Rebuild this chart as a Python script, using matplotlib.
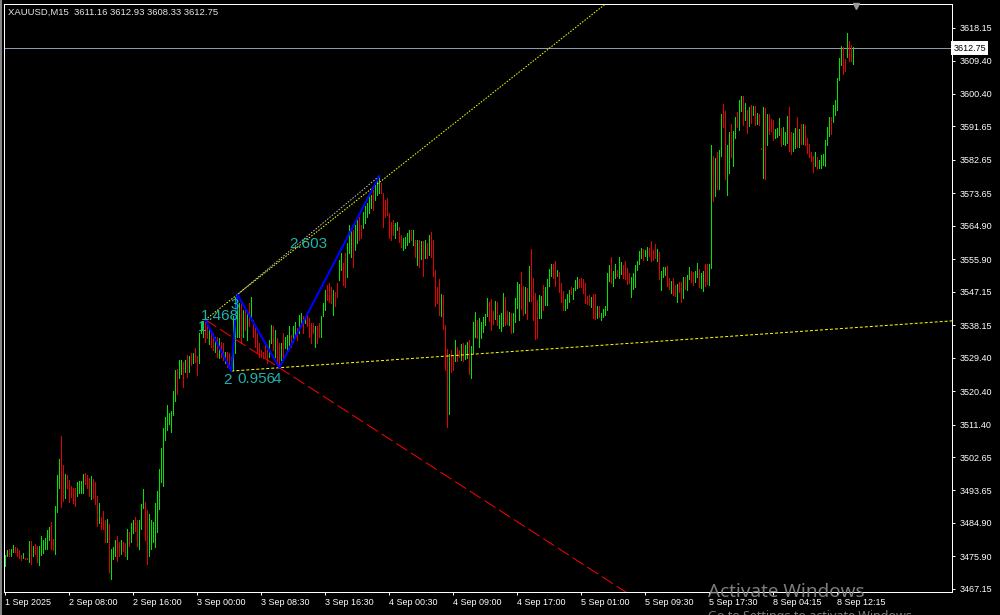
import matplotlib
matplotlib.use("Agg")
import matplotlib.pyplot as plt
from matplotlib.lines import Line2D

# chart header
symbol = "XAUUSD,M15"
last_ohlc = [3611.16, 3612.93, 3608.33, 3612.75]

# M15 bars, high / low per bar, G = up bar, R = down bar
highs = [
    3476.3, 3477.7, 3477.8, 3477.9, 3479.0, 3478.3, 3478.1, 3477.7, 3476.4, 3476.8,
    3475.5, 3475.5, 3480.1, 3480.1, 3478.7, 3479.3, 3478.8, 3478.7, 3481.4, 3480.2,
    3480.8, 3483.0, 3483.8, 3485.2, 3480.6, 3489.5, 3497.8, 3502.1, 3508.4, 3500.5,
    3498.1, 3497.8, 3496.5, 3494.9, 3494.4, 3494.3, 3495.9, 3496.2, 3496.2, 3498.1,
    3498.4, 3497.8, 3497.0, 3497.6, 3496.8, 3495.8, 3492.2, 3490.3, 3486.5, 3488.1,
    3485.8, 3486.0, 3484.6, 3477.9, 3478.4, 3480.3, 3481.4, 3479.8, 3480.3, 3479.8,
    3479.5, 3483.3, 3482.5, 3484.9, 3485.7, 3486.5, 3485.8, 3485.7, 3490.0, 3494.1,
    3490.6, 3488.4, 3487.3, 3485.8, 3485.2, 3490.3, 3493.5, 3499.4, 3505.1, 3510.5,
    3513.4, 3516.7, 3514.4, 3515.1, 3520.5, 3526.1, 3526.4, 3528.8, 3528.8, 3528.2,
    3528.8, 3530.1, 3529.9, 3530.6, 3530.7, 3531.9, 3529.9, 3536.0, 3539.1, 3539.4,
    3539.6, 3539.4, 3537.0, 3536.9, 3536.0, 3535.1, 3535.1, 3534.6, 3533.7, 3533.3,
    3531.0, 3531.0, 3530.6, 3529.7, 3540.5, 3545.8, 3546.4, 3544.0, 3544.9, 3542.3,
    3542.3, 3541.4, 3544.0, 3545.8, 3539.6, 3537.8, 3536.0, 3533.3, 3531.5, 3531.0,
    3533.3, 3531.5, 3534.2, 3538.2, 3537.8, 3536.9, 3534.6, 3533.3, 3533.3, 3536.0,
    3535.1, 3535.5, 3537.8, 3535.5, 3537.8, 3539.1, 3537.3, 3540.9, 3541.4, 3540.5,
    3540.5, 3541.8, 3540.0, 3538.7, 3538.7, 3537.8, 3537.8, 3538.7, 3540.5, 3544.0,
    3547.6, 3549.0, 3549.4, 3548.5, 3547.6, 3547.2, 3549.4, 3555.7, 3557.5, 3554.8,
    3557.5, 3560.2, 3565.1, 3564.2, 3563.8, 3565.1, 3566.5, 3567.4, 3565.1, 3568.7,
    3570.1, 3571.0, 3572.8, 3573.2, 3574.5, 3575.9, 3577.2, 3578.3, 3576.3, 3573.7,
    3571.9, 3572.3, 3568.3, 3566.0, 3566.5, 3565.6, 3566.0, 3564.7, 3562.4, 3561.5,
    3562.0, 3562.9, 3563.8, 3563.8, 3563.8, 3561.1, 3561.1, 3561.1, 3560.8, 3560.8,
    3561.1, 3560.2, 3562.4, 3563.1, 3561.1, 3553.0, 3548.5, 3550.6, 3546.5, 3546.3,
    3538.2, 3531.7, 3530.4, 3531.5, 3529.9, 3534.2, 3532.2, 3531.5, 3533.1, 3533.4,
    3532.8, 3533.6, 3534.2, 3532.6, 3539.0, 3541.7, 3539.5, 3540.0, 3539.0, 3540.4,
    3541.2, 3545.5, 3544.5, 3545.2, 3541.9, 3544.7, 3544.4, 3540.9, 3541.3, 3546.7,
    3545.7, 3542.0, 3541.7, 3541.3, 3541.3, 3545.5, 3549.8, 3549.1, 3552.4, 3548.7,
    3548.5, 3548.2, 3554.1, 3558.7, 3550.9, 3546.8, 3544.9, 3546.3, 3546.1, 3549.0,
    3548.5, 3550.6, 3553.3, 3554.7, 3554.7, 3555.4, 3553.0, 3552.5, 3549.4, 3547.4,
    3545.2, 3546.5, 3547.7, 3548.4, 3548.2, 3550.3, 3551.1, 3550.5, 3550.8, 3550.6,
    3549.4, 3546.1, 3546.3, 3545.8, 3546.5, 3546.5, 3543.3, 3543.3, 3541.5, 3542.5,
    3543.3, 3552.3, 3554.3, 3556.5, 3552.8, 3554.7, 3553.0, 3556.5, 3555.2, 3554.4,
    3555.4, 3553.5, 3552.3, 3551.0, 3552.3, 3554.3, 3555.5, 3558.1, 3558.9, 3558.7,
    3558.4, 3559.2, 3558.9, 3560.8, 3558.4, 3560.0, 3558.7, 3557.9, 3552.8, 3553.8,
    3553.8, 3554.1, 3550.9, 3550.1, 3550.9, 3549.0, 3549.3, 3549.8, 3549.8, 3551.2,
    3551.2, 3551.7, 3553.8, 3552.8, 3552.5, 3552.8, 3554.9, 3553.3, 3552.2, 3552.8,
    3554.6, 3554.6, 3554.7, 3586.7, 3583.7, 3583.2, 3584.8, 3585.3, 3595.0, 3597.7,
    3595.8, 3586.7, 3590.2, 3592.3, 3590.4, 3594.2, 3595.6, 3598.8, 3599.9, 3599.9,
    3598.0, 3596.1, 3596.9, 3597.4, 3597.2, 3597.2, 3595.3, 3595.0, 3585.8, 3596.9,
    3596.6, 3595.0, 3595.0, 3593.7, 3593.4, 3591.0, 3591.2, 3593.9, 3591.2, 3591.5,
    3590.2, 3594.5, 3596.9, 3590.2, 3589.9, 3591.2, 3594.2, 3591.0, 3592.3, 3592.3,
    3592.0, 3588.6, 3586.9, 3584.8, 3583.7, 3584.8, 3583.4, 3582.6, 3584.0, 3584.2,
    3588.0, 3591.5, 3594.2, 3594.2, 3597.4, 3598.8, 3604.7, 3610.1, 3613.3, 3613.0,
    3609.8, 3616.8, 3614.7, 3613.6, 3612.93,
]
lows = [
    3473.4, 3475.9, 3476.0, 3475.9, 3477.2, 3477.0, 3475.9, 3475.4, 3474.8, 3475.4,
    3475.2, 3475.2, 3474.5, 3473.9, 3476.1, 3476.6, 3474.5, 3473.6, 3476.2, 3476.8,
    3477.9, 3477.9, 3480.3, 3477.9, 3477.6, 3476.6, 3487.9, 3494.3, 3489.2, 3490.8,
    3491.6, 3494.3, 3490.5, 3492.0, 3490.4, 3489.5, 3492.2, 3493.0, 3493.0, 3493.0,
    3495.4, 3494.3, 3492.2, 3491.4, 3491.6, 3490.0, 3484.2, 3485.0, 3483.3, 3483.3,
    3479.8, 3479.8, 3471.7, 3469.8, 3475.2, 3476.1, 3474.7, 3475.9, 3476.6, 3477.4,
    3476.1, 3475.2, 3478.7, 3479.8, 3482.2, 3482.8, 3478.7, 3477.9, 3483.3, 3488.9,
    3480.3, 3473.9, 3476.0, 3477.9, 3479.8, 3478.4, 3482.5, 3488.7, 3495.9, 3494.9,
    3507.3, 3509.8, 3511.6, 3509.5, 3514.0, 3517.8, 3519.6, 3524.0, 3525.0, 3521.6,
    3525.6, 3524.3, 3525.6, 3527.4, 3527.9, 3528.2, 3524.8, 3528.1, 3536.0, 3535.0,
    3533.5, 3534.6, 3533.0, 3532.4, 3531.5, 3531.0, 3529.7, 3529.2, 3529.7, 3528.8,
    3527.9, 3527.0, 3526.6, 3525.8, 3526.1, 3530.6, 3535.1, 3535.1, 3533.3, 3535.1,
    3536.9, 3534.2, 3537.8, 3539.6, 3535.1, 3532.4, 3530.6, 3529.7, 3529.7, 3529.2,
    3529.7, 3527.9, 3529.7, 3533.3, 3531.5, 3529.7, 3527.9, 3526.7, 3528.8, 3528.8,
    3531.9, 3531.5, 3532.8, 3532.4, 3533.7, 3535.1, 3534.2, 3536.0, 3537.8, 3536.0,
    3538.7, 3537.8, 3535.1, 3533.3, 3536.0, 3532.4, 3533.3, 3535.1, 3535.1, 3540.5,
    3542.3, 3544.9, 3544.5, 3544.0, 3540.9, 3543.2, 3545.8, 3550.3, 3553.0, 3549.0,
    3548.5, 3551.2, 3557.5, 3556.6, 3553.9, 3558.4, 3560.2, 3561.1, 3561.5, 3564.2,
    3565.6, 3567.4, 3568.3, 3569.6, 3569.2, 3571.9, 3573.2, 3573.7, 3573.7, 3564.7,
    3567.4, 3567.8, 3561.5, 3561.1, 3562.4, 3561.5, 3563.8, 3560.6, 3559.3, 3558.4,
    3558.8, 3559.7, 3560.6, 3561.1, 3559.7, 3556.6, 3554.4, 3553.9, 3556.0, 3551.5,
    3556.1, 3556.1, 3557.0, 3556.6, 3551.5, 3543.3, 3544.2, 3540.9, 3540.5, 3537.1,
    3526.1, 3510.8, 3514.3, 3525.6, 3526.1, 3528.5, 3528.5, 3529.7, 3528.8, 3528.5,
    3529.0, 3529.4, 3525.0, 3524.0, 3530.7, 3535.0, 3534.8, 3532.4, 3534.8, 3536.3,
    3538.3, 3540.6, 3539.4, 3536.9, 3538.4, 3539.7, 3538.2, 3537.5, 3536.7, 3537.8,
    3538.2, 3538.5, 3538.2, 3536.1, 3536.4, 3538.9, 3542.7, 3539.5, 3542.5, 3540.9,
    3541.5, 3539.7, 3544.7, 3544.7, 3539.6, 3534.4, 3534.8, 3540.0, 3540.1, 3542.1,
    3543.6, 3543.6, 3548.7, 3551.4, 3550.9, 3548.7, 3551.4, 3547.1, 3544.5, 3542.1,
    3542.2, 3542.9, 3544.5, 3546.5, 3545.3, 3547.6, 3548.1, 3548.5, 3548.4, 3546.7,
    3544.1, 3543.9, 3543.6, 3543.1, 3540.0, 3539.8, 3540.0, 3540.4, 3539.5, 3540.3,
    3540.9, 3542.2, 3550.0, 3549.4, 3548.8, 3550.8, 3551.4, 3550.9, 3551.9, 3550.8,
    3550.5, 3549.2, 3549.4, 3545.6, 3548.0, 3548.3, 3552.9, 3554.7, 3556.3, 3555.7,
    3556.8, 3555.7, 3556.8, 3555.5, 3555.7, 3556.2, 3555.3, 3550.6, 3547.7, 3551.0,
    3551.7, 3548.7, 3547.9, 3546.8, 3546.3, 3546.0, 3544.4, 3547.1, 3544.4, 3545.5,
    3547.9, 3547.6, 3550.6, 3549.8, 3549.0, 3549.8, 3551.2, 3548.5, 3548.2, 3547.4,
    3548.7, 3549.3, 3549.0, 3553.6, 3571.6, 3572.9, 3574.8, 3574.8, 3583.7, 3591.5,
    3577.5, 3573.2, 3579.1, 3583.4, 3581.0, 3588.6, 3591.5, 3590.7, 3595.8, 3592.0,
    3593.4, 3589.9, 3591.8, 3592.6, 3594.7, 3592.0, 3592.3, 3592.0, 3585.5, 3577.8,
    3577.5, 3586.7, 3589.6, 3590.4, 3588.0, 3588.6, 3588.8, 3589.4, 3586.4, 3586.9,
    3586.7, 3587.2, 3585.1, 3584.2, 3585.1, 3585.9, 3586.1, 3586.1, 3586.9, 3586.9,
    3586.7, 3584.5, 3583.4, 3582.4, 3579.4, 3581.0, 3580.2, 3580.5, 3580.5, 3581.3,
    3581.0, 3586.7, 3589.1, 3589.6, 3592.9, 3594.7, 3596.1, 3604.2, 3608.2, 3605.8,
    3606.6, 3610.3, 3609.3, 3609.3, 3608.33,
]
direction = (
    "GGRGGRRRRG" "RRGRGRRGGG" "GGGRRGGGRR" "GRRRRRGGGG" "RRRGRRRGRR"
    "RGRGGGRRGR" "RGRGGRRGGG" "RRGGGGGGGG" "GGGGGGRGGR" "GRGRGRRGGG"
    "RRGRRGRGRR" "GRRRGGGGRG" "RGRGRRRRRR" "RRGGRGRRGR" "GGGRGGRGGR"
    "GRRRRGRRGG" "GRRRGRRGGR" "RGGGRGGRRG" "GGGGRGGGRR" "RRRRRGGRRG"
    "GGGRGRGRGR" "GRGRRRRRGR" "RRGRRGRRGR" "GGRGGGRGGG" "GGRRRGRGGG"
    "RRGRGGGGRR" "GRGRRRRGGR" "GGGGRRGRRR" "GGGRGGGRRR" "RRRGRRGRGG"
    "GGGRGGRGGR" "RRRGGGGGGR" "GGRRRRGRGG" "GRRGRRGRRG" "RGGRRGGRGG"
    "RRGGRGRGGR" "RGGRGGRGGR" "GRGRGRGRRG" "RGRRRGGGRG" "GGRRGGRGRG"
    "RRRRRGRGGG" "GGGRGGGGGR" "RGRRG"
)

# bottom axis: one label every 32 bars
time_labels = ["1 Sep 2025", "2 Sep 08:00", "2 Sep 16:00", "3 Sep 00:00", "3 Sep 08:30",
               "3 Sep 16:30", "4 Sep 00:30", "4 Sep 09:00", "4 Sep 17:00", "5 Sep 01:00",
               "5 Sep 09:30", "5 Sep 17:30", "8 Sep 04:15", "8 Sep 12:15"]
bars_per_label = 32

price_ticks = [3618.15, 3609.40, 3600.40, 3591.65, 3582.65, 3573.65, 3564.90, 3555.90, 3547.15,
               3538.15, 3529.40, 3520.40, 3511.40, 3502.65, 3493.65, 3484.90, 3475.90, 3467.15]

# zigzag pivots (bar index, price) and the pattern labels
zz_bars = [100, 113, 116, 137, 187]
zz_prices = [3539.6, 3525.8, 3546.4, 3526.7, 3578.3]
ratio_texts = ["1.468", "0.956", "2.603"]

n = min(len(highs), len(lows), len(direction))
up_x = [i for i in range(n) if direction[i] == "G"]
dn_x = [i for i in range(n) if direction[i] != "G"]

W, H = 1000, 615
fig = plt.figure(figsize=(W / 100, H / 100), dpi=100)
fig.patch.set_facecolor("black")
ax = fig.add_axes([4 / W, 23 / H, 948 / W, 588 / H])
ax.set_facecolor("black")
ax.set_xlim(-0.67, 473.3)
ax.set_ylim(3466.32, 3624.61)

px = 0.72  # one pixel in points

ax.vlines(up_x, [lows[i] for i in up_x], [highs[i] for i in up_x],
          color="#00e600", lw=px, antialiased=False, zorder=2)
ax.vlines(dn_x, [lows[i] for i in dn_x], [highs[i] for i in dn_x],
          color="#e60000", lw=px, antialiased=False, zorder=2)

# bid line
ax.axhline(last_ohlc[3], color="#8a9bb0", lw=px, zorder=1)


def ray(p, q, far=700):
    slope = (q[1] - p[1]) / (q[0] - p[0])
    return [p[0], far], [p[1], p[1] + slope * (far - p[0])]


P = list(zip(zz_bars, zz_prices))

# trend lines of the pattern
xs, ys = ray(P[0], P[3])
ax.plot(xs, ys, color="#ff0000", lw=px, dashes=(13, 4.5), zorder=3)
xs, ys = ray(P[0], P[2])
ax.plot(xs, ys, color="#ffff00", lw=px, dashes=(1.5, 1.5), zorder=3)
xs, ys = ray(P[1], P[3])
ax.plot(xs, ys, color="#ffff00", lw=px, dashes=(3, 2), zorder=3)
ax.plot([P[2][0], P[4][0]], [P[2][1], P[4][1]], color="#c0c0c0", lw=px,
        dashes=(1.5, 1.5), zorder=3)

ax.plot(zz_bars, zz_prices, color="#0000ff", lw=1.5, zorder=4)

lab = dict(color="#20b2aa", fontsize=11, family="Liberation Sans",
           textcoords="offset pixels", ha="center", va="center", zorder=5)
ax.annotate("1", P[0], xytext=(-3, -7), **lab)
ax.annotate(ratio_texts[0], P[0], xytext=(15, 4), **lab)
ax.annotate("2", P[1], xytext=(-4, -9), **lab)
ax.annotate(ratio_texts[1], P[1], xytext=(25, -8), **lab)
ax.annotate("3", P[2], xytext=(-3, -10), **lab)
ax.annotate("4", P[3], xytext=(-2, -11), **lab)
mid = ((P[3][0] + P[4][0]) / 2, (P[3][1] + P[4][1]) / 2)
ax.annotate(ratio_texts[2], mid, xytext=(-21, 28), **lab)

# axes styling
for s in ax.spines.values():
    s.set_color("white")
    s.set_linewidth(px)
ax.yaxis.tick_right()
ax.set_yticks(price_ticks)
ax.set_yticklabels(["%.2f" % v for v in price_ticks])
ax.set_xticks([i * bars_per_label for i in range(len(time_labels))])
ax.set_xticklabels(time_labels)
for t in ax.get_xticklabels():
    t.set_horizontalalignment("left")
ax.tick_params(axis="both", colors="white", labelsize=6.5, length=2.2, width=px)
ax.tick_params(axis="y", pad=3)
ax.tick_params(axis="x", pad=2)
for t in ax.get_xticklabels() + ax.get_yticklabels():
    t.set_family("Liberation Sans")

ax.text(1 + 1.5 / 948, last_ohlc[3], "%.2f" % last_ohlc[3], transform=ax.get_yaxis_transform(),
        ha="left", va="center", fontsize=6.5, family="Liberation Sans", color="black",
        bbox=dict(boxstyle="square,pad=0.25", fc="white", ec="none"), zorder=6)

fig.text(8 / W, 1 - 12.5 / H,
         "%s  %.2f %.2f %.2f %.2f" % (symbol, *last_ohlc),
         color="#e6e6e6", fontsize=6.8, family="Liberation Sans", va="center", ha="left")

# chart shift marker
fig.add_artist(Line2D([856 / W], [1 - 6 / H], marker="v", markersize=5,
                      color="#9a9a9a", transform=fig.transFigure))
# window edge
fig.add_artist(Line2D([0.7 / W, 0.7 / W], [0, 1], color="#a0a0a0", lw=1.2,
                      transform=fig.transFigure))

fig.text(708 / W, 1 - 592 / H, "Activate Windows", color="#8a8a8a", alpha=0.9,
         fontsize=13.6, family="Noto Sans", va="center", ha="left")
fig.text(708 / W, 1 - 610 / H, "Go to Settings to activate Windows.", color="#8a8a8a",
         alpha=0.9, fontsize=9, family="Noto Sans", va="top", ha="left")

fig.savefig("out.png", dpi=100, facecolor="black")
